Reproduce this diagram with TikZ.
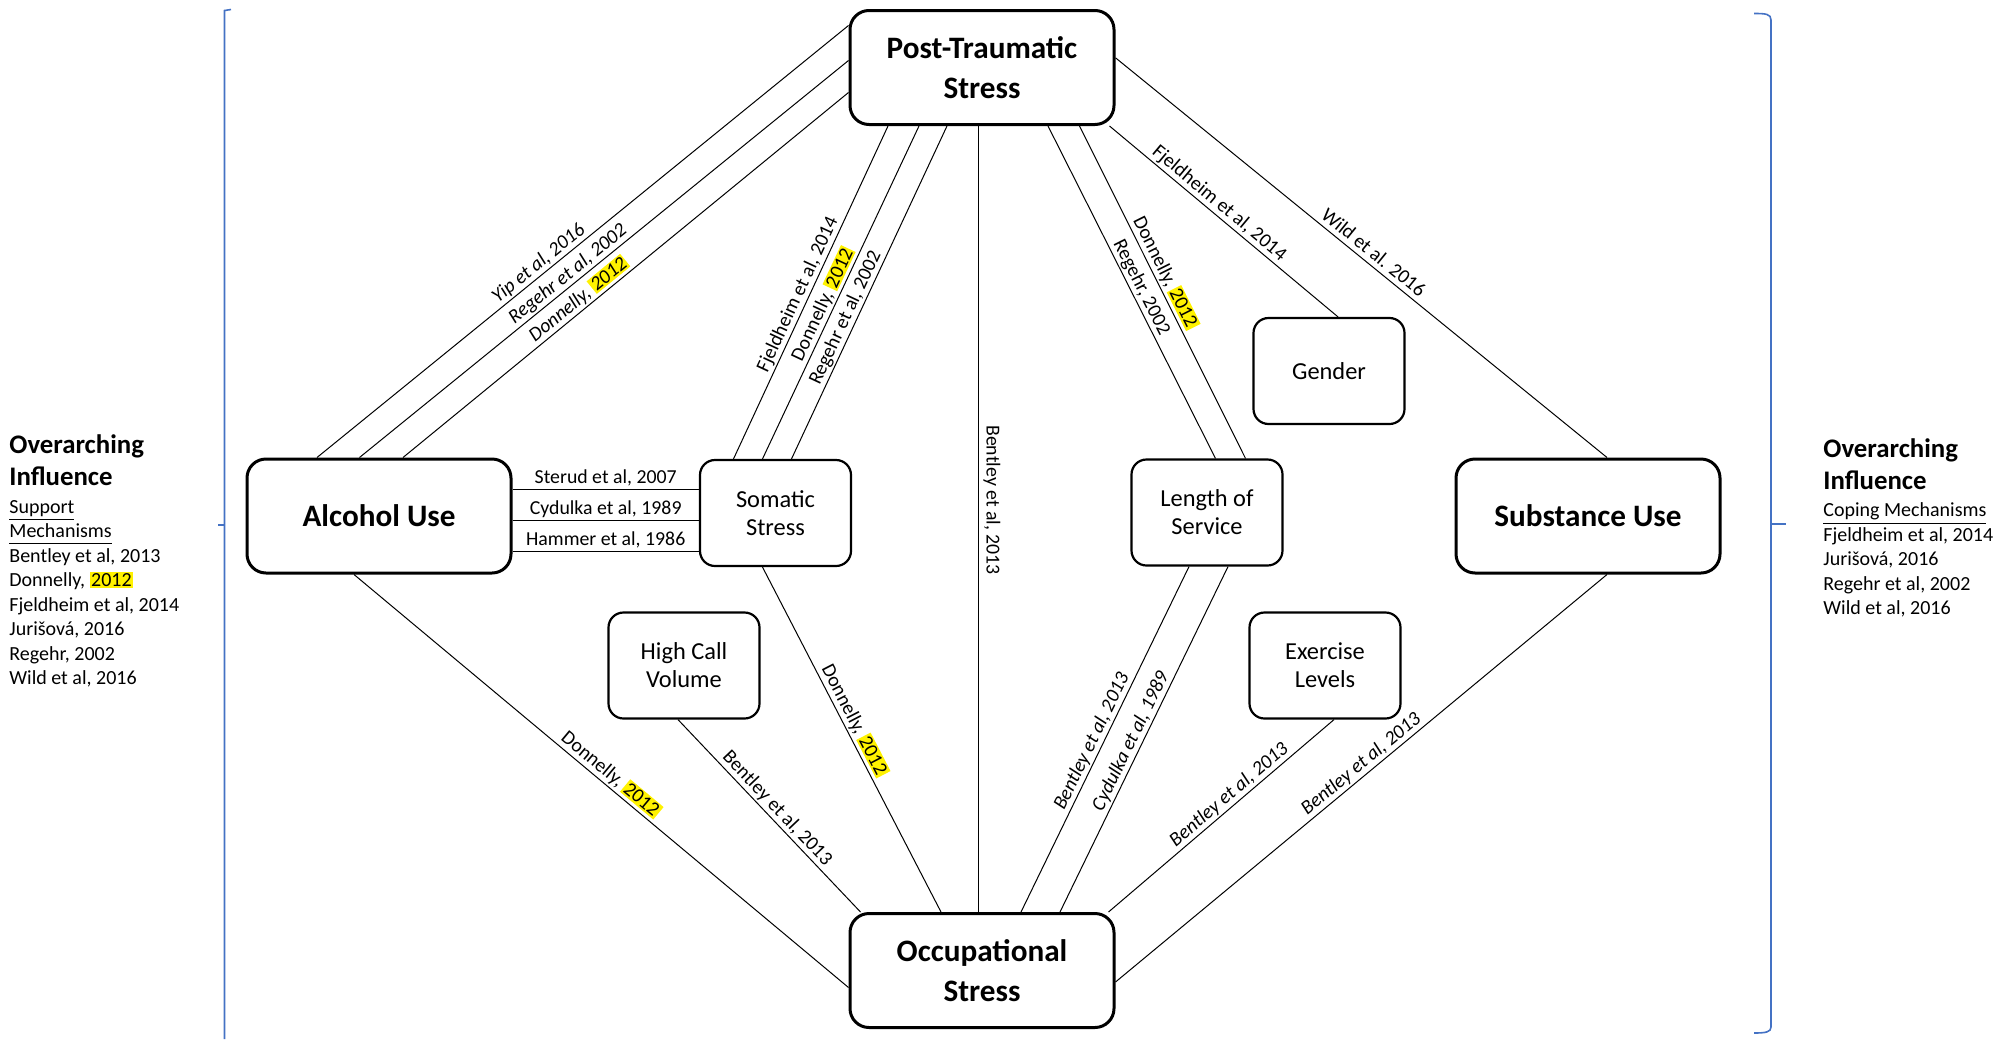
\documentclass[tikz,border=0pt]{standalone}
\usepackage{fontspec}
\setmainfont{Carlito}
\usetikzlibrary{positioning, calc}
\definecolor{bracketblue}{RGB}{68,114,196}
\newcommand{\hlyear}[1]{{\setlength{\fboxsep}{0.8pt}\colorbox{yellow}{#1}}}
\newcommand{\ulword}[1]{\underline{#1\vphantom{p}}}

\begin{document}
\begin{tikzpicture}[x=0.5pt, y=-0.5pt,
    bigbox/.style={draw, line width=1.5pt, rounded corners=9.5pt, minimum width=132pt,
      minimum height=57pt, align=center, inner sep=0pt, font=\fontsize{15.6}{20}\selectfont\bfseries},
    smallbox/.style={draw, line width=1.1pt, rounded corners=7.5pt, minimum width=75.5pt,
      minimum height=53pt, align=center, inner sep=0pt, font=\fontsize{12.2}{14}\selectfont},
    lbl/.style={font=\fontsize{9.9}{11.5}\selectfont, sloped, above, inner sep=2.5pt, text depth=0pt},
    ilbl/.style={lbl, font=\fontsize{9.9}{11.5}\selectfont\itshape},
    vlbl/.style={font=\fontsize{9.9}{11.5}\selectfont, rotate=-90, above, inner sep=4pt, text depth=0pt},
    heading/.style={align=left, inner sep=0pt, font=\fontsize{13.4}{16}\selectfont\bfseries},
    reflist/.style={align=left, inner sep=0pt, font=\fontsize{10}{12.25}\selectfont},
    link/.style={line width=0.5pt}]
    \useasboundingbox (0,0) rectangle (2013,1039);

    % Main factors
    \node[bigbox] (pts) at (982,67.5) {Post-Traumatic\\Stress};
    \node[bigbox] (alc) at (379,516) {Alcohol Use};
    \node[bigbox] (sub) at (1588,516) {Substance Use};
    \node[bigbox] (occ) at (982,970.5) {Occupational\\Stress};

    % Secondary factors
    \node[smallbox] (som) at (775.5,513) {Somatic\\Stress};
    \node[smallbox] (los) at (1207,512.5) {Length of\\Service};
    \node[smallbox] (gen) at (1329,371) {Gender};
    \node[smallbox] (hcv) at (684,665.5) {High Call\\Volume};
    \node[smallbox] (exe) at (1325,665.5) {Exercise\\Levels};

    % Post-Traumatic Stress links
    \draw[link] ($(pts.west)+(0,-42)$) -- node[ilbl, pos=0.57] {Yip et al, 2016} ($(alc.north)+(-62,0)$);
    \draw[link] ($(pts.west)+(0,-7)$) -- node[ilbl, pos=0.56] {Regehr et al, 2002} ($(alc.north)+(-19.5,0)$);
    \draw[link] ($(pts.west)+(0,25)$) -- node[ilbl, pos=0.59] {Donnelly, \hlyear{2012}} ($(alc.north)+(24,0)$);
    \draw[link] ($(pts.south)+(-94,0)$) -- node[lbl, pos=0.52] {Fjeldheim et al, 2014} ($(som.north)+(-42,0)$);
    \draw[link] ($(pts.south)+(-63,0)$) -- node[lbl, pos=0.55] {Donnelly, \hlyear{2012}} ($(som.north)+(-13,0)$);
    \draw[link] ($(pts.south)+(-35,0)$) -- node[lbl, pos=0.59] {Regehr et al, 2002} ($(som.north)+(16,0)$);
    \draw[link] ($(pts.south)+(-4,0)$) -- node[vlbl, pos=0.476] {Bentley et al, 2013} ($(occ.north)+(-4,0)$);
    \draw[link] ($(pts.south)+(66,0)$) -- node[lbl, pos=0.50] {Regehr, 2002} ($(los.north)+(8.5,0)$);
    \draw[link] ($(pts.south)+(97.5,0)$) -- node[lbl, pos=0.457] {Donnelly, \hlyear{2012}} ($(los.north)+(38.5,0)$);
    \draw[link] ($(pts.south east)+(-6,0)$) -- node[lbl, pos=0.45] {Fjeldheim et al, 2014} ($(gen.north)+(9,0)$);
    \draw[link] ($(pts.east)+(0,-9.7)$) -- node[lbl, pos=0.51] {Wild et al. 2016} ($(sub.north)+(19,0)$);

    % Alcohol Use links
    \draw[link] ($(alc.east)+(0,-27)$) -- node[lbl] {Sterud et al, 2007} ($(som.west)+(0,-24)$);
    \draw[link] ($(alc.east)+(0,4)$) -- node[lbl] {Cydulka et al, 1989} ($(som.west)+(0,7)$);
    \draw[link] ($(alc.east)+(0,35)$) -- node[lbl] {Hammer et al, 1986} ($(som.west)+(0,38)$);
    \draw[link] ($(alc.south)+(-25,0)$) -- node[lbl, pos=0.505] {Donnelly, \hlyear{2012}} ($(occ.west)+(0,17)$);

    % Occupational Stress links
    \draw[link] ($(hcv.south)+(-6,0)$) -- node[lbl, pos=0.50] {Bentley et al, 2013} ($(occ.north west)+(12,0)$);
    \draw[link] ($(som.south)+(-13,0)$) -- node[lbl, pos=0.46] {Donnelly, \hlyear{2012}} ($(occ.north)+(-41,0)$);
    \draw[link] ($(occ.north)+(39,0)$) -- node[ilbl, pos=0.48] {Bentley et al, 2013} ($(los.south)+(-18,0)$);
    \draw[link] ($(occ.north)+(78,0)$) -- node[ilbl, pos=0.48] {Cydulka et al, 1989} ($(los.south)+(21,0)$);
    \draw[link] ($(occ.north east)+(-7,0)$) -- node[ilbl, pos=0.566] {Bentley et al, 2013} ($(exe.south)+(9,0)$);
    \draw[link] ($(occ.east)+(0,11.5)$) -- node[ilbl, pos=0.514] {Bentley et al, 2013} ($(sub.south)+(19,0)$);

    % Brackets
    \draw[bracketblue, line width=0.8pt] (231,9.5) -- (224.5,10.5) -- (224.5,1039);
    \draw[bracketblue, line width=0.8pt] (224.5,525) -- (218,525);
    \draw[bracketblue, line width=0.8pt] (1754,13.5) .. controls (1766,13.5) and (1771,14) .. (1771,20)
      -- (1771,1027) .. controls (1771,1032) and (1766,1033) .. (1754,1033);
    \draw[bracketblue, line width=0.8pt] (1771,524) -- (1786,524);

    % Overarching influences
    \node[heading, anchor=north west] (lhead) at (9,434) {Overarching\\Influence};
    \node[reflist, below=7pt of lhead.south west, anchor=north west] (llist)
      {\ulword{Support}\\\ulword{Mechanisms}\\Bentley et al, 2013\\Donnelly, \hlyear{2012}\\
       Fjeldheim et al, 2014\\Jurišová, 2016\\Regehr, 2002\\Wild et al, 2016};
    \node[heading, anchor=north west] (rhead) at (1823,438) {Overarching\\Influence};
    \node[reflist, below=6.3pt of rhead.south west, anchor=north west] (rlist)
      {\ulword{Coping Mechanisms}\\Fjeldheim et al, 2014\\Jurišová, 2016\\Regehr et al, 2002\\Wild et al, 2016};
\end{tikzpicture}
\end{document}
